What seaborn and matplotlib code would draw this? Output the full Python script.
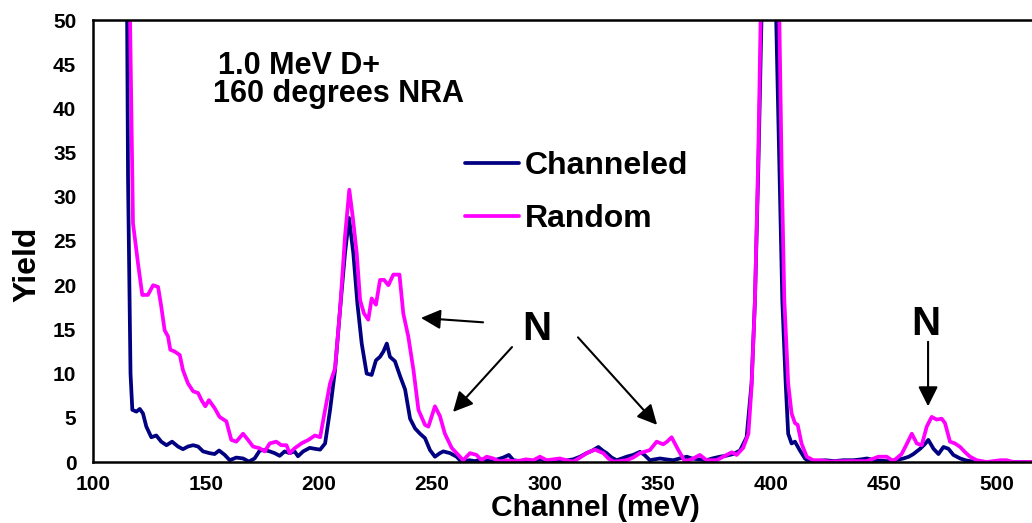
import matplotlib
matplotlib.use("Agg")
import matplotlib.pyplot as plt
import seaborn as sns
import pandas as pd

# ---------------- data ----------------
chan_x = [114.0, 115.5, 116.6, 117.4, 119.2, 120.7, 122.1, 123.6, 125.8, 128.0,
          130.2, 132.5, 135.0, 137.6, 139.8, 142.0, 144.3, 146.5, 148.7, 151.6,
          153.8, 155.8, 158.3, 160.5, 163.4, 166.4, 169.0, 171.5, 173.8, 176.0,
          178.2, 180.4, 182.6, 184.8, 187.0, 189.2, 190.7, 193.0, 195.9, 198.0,
          200.5, 202.7, 204.9, 207.1, 209.3, 211.5, 213.3, 215.2, 217.0, 218.9,
          221.1, 223.3, 225.2, 227.0, 228.5, 230.0, 231.4, 233.6, 235.9, 238.1,
          240.3, 242.5, 244.7, 246.9, 249.1, 251.3, 253.5, 255.0, 258.0, 259.4,
          260.9, 262.4, 263.9, 266.5, 269.0, 272.0, 275.5, 279.0, 281.5, 284.0,
          286.0, 289.0, 292.0, 295.0, 298.0, 301.0, 304.0, 307.0, 310.0, 312.5,
          315.5, 318.4, 321.0, 323.6, 325.5, 327.3, 329.5, 331.7, 334.0, 336.1,
          339.0, 342.0, 344.0, 346.4, 348.5, 350.9, 353.5, 356.8, 359.5, 362.7,
          365.0, 368.0, 371.5, 374.0, 377.4, 380.0, 383.3, 386.3, 389.2, 391.4,
          392.9, 394.4, 395.8, 398.8, 402.3, 403.7, 405.0, 406.5, 407.6, 409.1,
          410.6, 412.8, 415.0, 417.2, 420.0, 424.0, 428.0, 432.0, 436.5, 440.0,
          442.4, 446.0, 451.2, 455.0, 458.6, 461.0, 463.0, 466.0, 468.0, 469.6,
          471.9, 474.1, 476.3, 478.5, 480.7, 483.7, 486.0, 488.1, 492.5, 500.0,
          508.0, 516.0]
chan_y = [100, 32, 10, 5.9, 5.7, 6.0, 5.5, 4.0, 2.8, 3.0,
          2.3, 1.9, 2.3, 1.75, 1.45, 1.75, 1.9, 1.75, 1.2, 1.0,
          0.9, 1.3, 0.8, 0.2, 0.5, 0.4, 0.05, 0.4, 1.3, 1.35,
          1.2, 1.0, 0.7, 1.2, 1.0, 1.2, 0.65, 1.2, 1.6, 1.5,
          1.4, 2.1, 5.9, 10.4, 17.2, 23.6, 27.6, 23.6, 17.9, 13.4,
          10.0, 9.85, 11.5, 11.9, 12.5, 13.4, 11.9, 11.4, 9.7, 8.2,
          4.9, 3.8, 3.2, 2.7, 1.35, 0.6, 1.0, 1.2, 1.0, 0.8,
          0.6, 0.2, 0.05, 0.2, 0.1, 0.3, 0.1, 0.3, 0.5, 0.8,
          0.2, 0.1, 0.2, 0.1, 0.3, 0.1, 0.2, 0.1, 0.2, 0.3,
          0.6, 1.0, 1.3, 1.7, 1.3, 1.0, 0.5, 0.2, 0.4, 0.6,
          0.8, 1.15, 0.8, 0.2, 0.3, 0.4, 0.3, 0.2, 0.4, 0.6,
          0.4, 0.3, 0.2, 0.4, 0.6, 0.7, 0.9, 1.3, 2.8, 8.9,
          18.3, 33.4, 50, 90, 50, 33.4, 18.3, 8.9, 3.2, 2.1,
          2.3, 1.3, 0.4, 0.0, 0.1, 0.2, 0.1, 0.2, 0.2, 0.3,
          0.4, 0.2, 0.1, 0.2, 0.4, 0.6, 0.9, 1.5, 2.0, 2.5,
          1.5, 0.9, 1.7, 1.5, 0.8, 0.4, 0.2, 0.1, 0.0, 0.0,
          0.0, 0.0]

rand_x = [115.0, 116.4, 117.7, 119.9, 121.8, 124.3, 126.6, 128.8, 130.2, 131.7,
          133.2, 134.2, 136.1, 138.4, 139.8, 142.0, 144.3, 146.5, 148.0, 149.7,
          151.3, 153.8, 156.0, 159.0, 161.2, 163.4, 166.4, 168.6, 170.8, 173.8,
          176.0, 178.2, 181.1, 183.3, 185.6, 187.0, 189.2, 192.2, 195.3, 198.2,
          200.5, 202.7, 204.9, 207.1, 209.3, 211.5, 213.4, 214.9, 216.7, 218.2,
          219.9, 221.8, 223.3, 225.2, 227.0, 228.8, 230.7, 232.9, 235.6, 237.3,
          239.5, 241.8, 244.0, 246.9, 248.4, 251.3, 253.5, 255.7, 258.7, 261.6,
          263.8, 266.8, 269.7, 271.9, 274.2, 277.1, 280.0, 283.0, 286.0, 288.9,
          291.5, 294.8, 297.8, 300.7, 303.5, 306.6, 309.5, 312.5, 315.5, 318.4,
          322.1, 325.8, 328.0, 330.2, 333.0, 336.1, 339.0, 342.0, 346.4, 349.4,
          352.3, 354.0, 356.0, 359.0, 361.9, 365.6, 368.5, 371.5, 375.9, 378.9,
          382.6, 384.8, 387.7, 390.0, 391.4, 392.9, 394.4, 395.4, 399.5, 403.7,
          404.7, 405.9, 407.6, 409.1, 410.6, 411.8, 413.5, 415.8, 418.7, 422.0,
          426.0, 432.0, 436.5, 442.4, 447.5, 451.2, 454.1, 457.8, 460.0, 462.3,
          464.5, 466.7, 468.9, 471.1, 473.3, 475.5, 477.0, 479.2, 481.4, 483.7,
          485.9, 488.1, 491.0, 495.5, 501.4, 504.3, 507.2, 516.0]
rand_y = [100, 50, 27.0, 22.5, 18.9, 18.9, 20.0, 19.8, 17.6, 14.9,
          14.2, 12.7, 12.5, 12.1, 10.4, 8.9, 8.0, 7.8, 7.0, 6.3,
          7.0, 6.1, 5.1, 4.6, 2.5, 2.3, 3.2, 2.5, 1.75, 1.55,
          1.2, 2.1, 2.3, 1.9, 1.9, 1.0, 1.55, 2.1, 2.5, 3.0,
          2.8, 5.9, 8.9, 10.6, 17.2, 25.5, 30.8, 27.8, 23.6, 18.3,
          16.8, 16.1, 18.5, 17.8, 20.6, 20.6, 20.0, 21.2, 21.2, 16.8,
          14.2, 10.4, 5.9, 4.2, 4.0, 6.3, 5.2, 3.2, 1.6, 0.8,
          0.2, 1.0, 0.8, 0.2, 0.6, 0.4, 0.05, 0.2, 0.1, 0.15,
          0.3, 0.2, 0.6, 0.2, 0.3, 0.4, 0.2, 0.05, 0.5, 1.0,
          1.4, 1.0, 0.4, 0.05, 0.1, 0.2, 0.5, 1.0, 1.35, 2.3,
          2.0, 2.3, 2.8, 1.35, 0.05, 0.4, 0.8, 0.2, 0.2, 0.6,
          1.1, 0.8, 1.6, 3.2, 8.5, 18.3, 35, 50, 95, 50,
          33.4, 18.3, 8.9, 5.5, 4.4, 4.2, 2.1, 0.6, 0.2, 0.2,
          0.05, 0.1, 0.1, 0.1, 0.6, 0.6, 0.1, 0.9, 2.0, 3.2,
          2.1, 1.9, 4.0, 5.1, 4.8, 4.9, 4.4, 2.3, 2.1, 1.7,
          1.1, 0.6, 0.2, 0.0, 0.2, 0.2, 0.0, 0.0]

series_names = ["Channeled", "Random"]
series_colors = ["#000080", "#FF00FF"]
x_ticks = [100, 150, 200, 250, 300, 350, 400, 450, 500]
y_ticks = [0, 5, 10, 15, 20, 25, 30, 35, 40, 45, 50]

df = pd.concat([
    pd.DataFrame({"Channel": chan_x, "Yield": chan_y, "Series": series_names[0]}),
    pd.DataFrame({"Channel": rand_x, "Yield": rand_y, "Series": series_names[1]}),
], ignore_index=True)

# ---------------- style ----------------
sns.set_theme(style="white")
plt.rcParams["font.family"] = ["Liberation Sans", "DejaVu Sans"]
plt.rcParams["font.weight"] = "bold"
plt.rcParams["axes.labelweight"] = "bold"
plt.rcParams["text.color"] = "black"
plt.rcParams["axes.labelcolor"] = "black"
plt.rcParams["xtick.color"] = "black"
plt.rcParams["ytick.color"] = "black"

W, H = 1032, 523
fig = plt.figure(figsize=(W / 100, H / 100), dpi=100)
ax = fig.add_axes([93 / W, 1 - 462 / H, (W - 93) / W, 442 / H])

LW = 2.7
sns.lineplot(data=df, x="Channel", y="Yield", hue="Series",
             hue_order=series_names, palette=series_colors,
             estimator=None, sort=True, linewidth=LW, ax=ax, legend=True)

ax.set_xlim(100, 100 + (W - 93) * 50 / 113)
ax.set_ylim(0, 50)
ax.set_xticks(x_ticks)
ax.set_yticks(y_ticks)
ax.tick_params(axis="both", which="major", direction="out", length=5,
               width=1.3, color="black", labelsize=15, labelcolor="black")
ax.tick_params(axis="x", pad=4)
ax.tick_params(axis="y", pad=7)
for lab in ax.get_xticklabels() + ax.get_yticklabels():
    lab.set_fontweight("bold")

for side in ["left", "bottom", "top"]:
    ax.spines[side].set_visible(True)
    ax.spines[side].set_color("black")
    ax.spines[side].set_linewidth(1.8)
ax.spines["right"].set_visible(False)

ax.set_xlabel("Channel (meV)", fontsize=21.5, fontweight="bold", color="black")
ax.xaxis.set_label_coords(0.535, -0.073)
ax.set_ylabel("Yield", fontsize=23, fontweight="bold", color="black")
ax.yaxis.set_label_coords(-0.054, 0.446)

# legend
leg = ax.legend(loc="center left", bbox_to_anchor=(0.396, 0.61),
                frameon=False, fontsize=23, handlelength=1.7,
                handletextpad=0.17, labelspacing=0.72, borderpad=0,
                borderaxespad=0)
for t in leg.get_texts():
    t.set_fontweight("bold")
    t.set_color("black")
for h in leg.get_lines():
    h.set_linewidth(LW)

# text annotations
ax.text(155.3, 43.9, "1.0 MeV D+", fontsize=22, fontweight="bold", ha="left", va="baseline", color="black")
ax.text(153.1, 40.7, "160 degrees NRA", fontsize=22, fontweight="bold", ha="left", va="baseline", color="black")
ax.text(296.5, 15.0, "N", fontsize=29, fontweight="bold", ha="center", va="center", color="black")
ax.text(468.6, 15.6, "N", fontsize=29, fontweight="bold", ha="center", va="center", color="black")

arrow_kw = dict(arrowstyle="-|>,head_length=1.0,head_width=0.5", color="black",
                lw=1.5, shrinkA=0, shrinkB=0)
for tail, tip in [((272.6, 15.8), (245.1, 16.3)),
                  ((285.4, 13.0), (259.3, 5.66)),
                  ((314.6, 14.1), (349.6, 4.2)),
                  ((469.5, 13.6), (469.5, 6.3))]:
    ax.annotate("", xy=tip, xytext=tail, arrowprops=arrow_kw)

fig.savefig("out.png", dpi=100)
